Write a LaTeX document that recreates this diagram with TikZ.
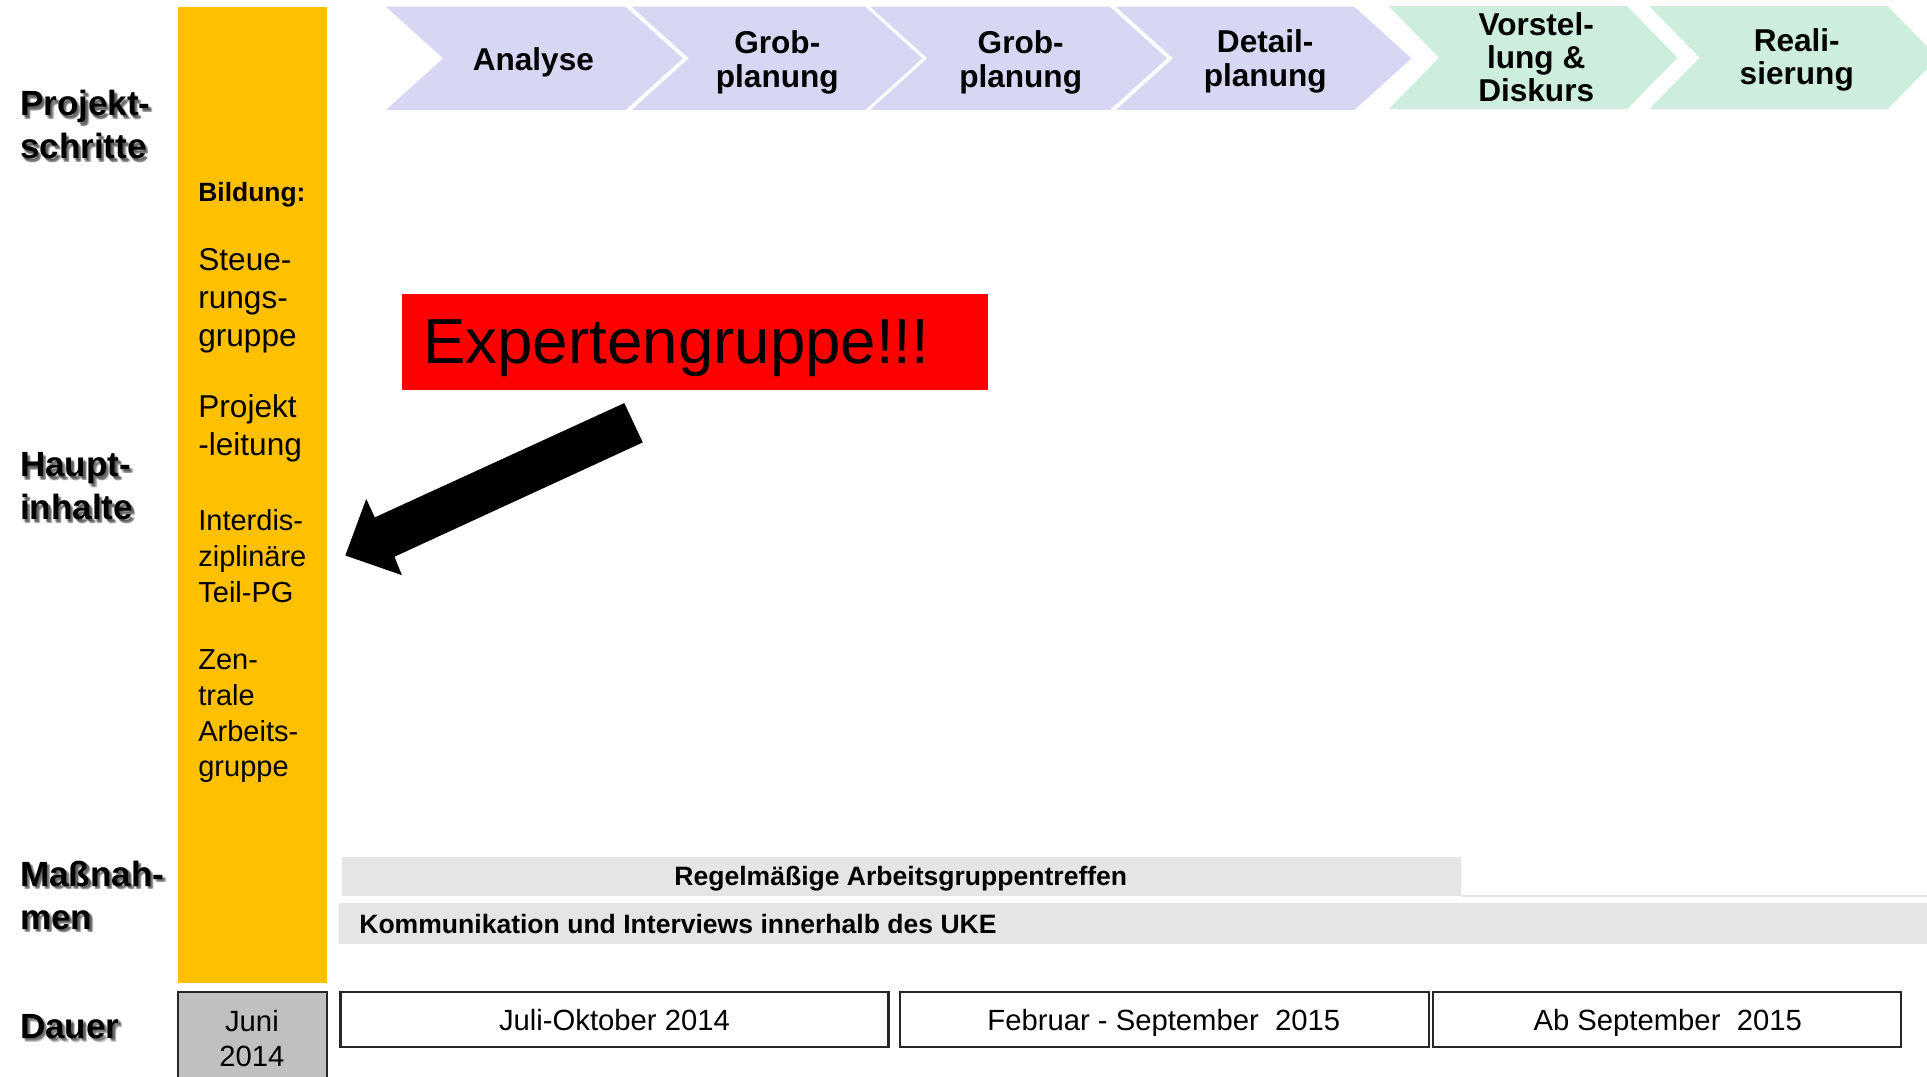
\documentclass[tikz,border=0pt]{standalone}
\usepackage{fontspec}
\setmainfont{Liberation Sans}
\definecolor{colyellow}{HTML}{FFC000}
\definecolor{collav}{HTML}{D7D7F3}
\definecolor{colmint}{HTML}{CDEEDD}
\definecolor{colbar}{HTML}{E5E5E5}
\definecolor{coljuni}{HTML}{C0C0C0}
\begin{document}
\begin{tikzpicture}[x=0.5pt,y=-0.5pt,
  rowlabel/.style={anchor=north west, inner sep=0pt, align=left,
    font=\fontsize{14.25}{17.5}\selectfont\bfseries},
  rowshadow/.style={rowlabel, text=black, text opacity=0.22},
  steptext/.style={anchor=north, inner sep=0pt, align=center,
    font=\fontsize{12.85}{13.5}\selectfont\bfseries},
  colhead/.style={anchor=north west, inner sep=0pt, align=left,
    font=\fontsize{10.75}{13}\selectfont\bfseries},
  colbig/.style={anchor=north west, inner sep=0pt, align=left,
    font=\fontsize{12.85}{15.5}\selectfont},
  colsmall/.style={anchor=north west, inner sep=0pt, align=left,
    font=\fontsize{11.8}{14.5}\selectfont},
  bartext/.style={inner sep=0pt, font=\fontsize{10.8}{13}\selectfont\bfseries},
  datebox/.style={draw=black!85, line width=0.9pt},
  datetext/.style={anchor=base, inner sep=0pt, font=\fontsize{11.9}{14.5}\selectfont},
  lavstep/.style={fill=collav},
  mintstep/.style={fill=colmint}
]
\clip (0,0) rectangle (1568,876);
\fill[white] (0,0) rectangle (1568,876);

% row labels with a soft drop shadow
\foreach \px/\py/\nm/\txt in {16/73/proj/{Projekt-\\schritte},
                              16/368/haupt/{Haupt-\\inhalte},
                              16/700/mass/{Maßnah-\\men},
                              16/825/dauer/{Dauer}} {
  \node[rowshadow] (\nm sa) at (\px+1.2,\py+1.2) {\txt};
  \node[rowshadow] (\nm sb) at (\px+2.4,\py+2.0) {\txt};
  \node[rowshadow] (\nm sc) at (\px+2.0,\py+2.8) {\txt};
  \node[rowshadow] (\nm sd) at (\px+3.0,\py+3.0) {\txt};
  \node[rowlabel] (\nm) at (\px,\py) {\txt};
}

% yellow column
\fill[colyellow] (145,6) rectangle (266,800);
\node[colhead] (bildung) at (161,148) {Bildung:};
\node[colbig] (steuer) at (161,202) {Steue-\\rungs-\\gruppe};
\node[colbig] (pleitung) at (161,321) {Projekt\\-leitung};
\node[colsmall] (teilpg) at (161,414.5) {Interdis-\\ziplinäre\\Teil-PG};
\node[colsmall] (zag) at (161,528.5) {Zen-\\trale\\Arbeits-\\gruppe};

% project steps as chevrons
\foreach \l/\r in {314/509, 514/704, 708/903, 908/1102} {
  \fill[lavstep] (\l,5.5) -- (\r,5.5) -- (\r+46.5,47.5) -- (\r,89.5)
    -- (\l,89.5) -- (\l+46.5,47.5) -- cycle;
}
\foreach \l/\r in {1130/1324, 1342/1536} {
  \fill[mintstep] (\l,5) -- (\r,5) -- (\r+41,47) -- (\r,88.7)
    -- (\l,88.7) -- (\l+41,47) -- cycle;
}
\node[steptext, anchor=base] (s1) at (434,57) {Analyse};
\node[steptext] (s2) at (632.5,24.8) {Grob-\\planung};
\node[steptext] (s3) at (830.5,24.8) {Grob-\\planung};
\node[steptext] (s4) at (1029.5,24) {Detail-\\planung};
\node[steptext] (s5) at (1250,9.8) {Vorstel-\\lung \&\\Diskurs};
\node[steptext] (s6) at (1462,23) {Reali-\\sierung};

% expert group box and pointer
\fill[red] (327,239) rectangle (804,317);
\node[anchor=base west, inner sep=0pt, font=\fontsize{25.9}{30}\selectfont]
  (expert) at (344,296) {Expertengruppe!!!};
\fill[black] (508,328) -- (523,360) -- (321,453) -- (327,468)
  -- (281,452) -- (298,406) -- (305,421) -- cycle;

% measures
\fill[colbar] (278,697) rectangle (1189,729);
\fill[colbar] (1189,728) rectangle (1568,730);
\fill[colbar] (276,735) rectangle (1568,768);
\node[bartext, anchor=base] (treffen) at (733,720.7) {Regelmäßige Arbeitsgruppentreffen};
\node[bartext, anchor=base west] (komm) at (292,759.7) {Kommunikation und Interviews innerhalb des UKE};

% duration
\filldraw[datebox, fill=coljuni] (145,807) rectangle (266,884);
\draw[datebox] (277,807) rectangle (723,852);
\draw[datebox] (732,807) rectangle (1163,852);
\draw[datebox] (1166,807) rectangle (1547,852);
\node[datetext, anchor=north, align=center] (juni) at (205,821.5) {Juni\\2014};
\node[datetext] (d1) at (500,838.5) {Juli-Oktober 2014};
\node[datetext] (d2) at (947,838.5) {Februar - September~ 2015};
\node[datetext] (d3) at (1357,838.5) {Ab September~ 2015};
\end{tikzpicture}
\end{document}
